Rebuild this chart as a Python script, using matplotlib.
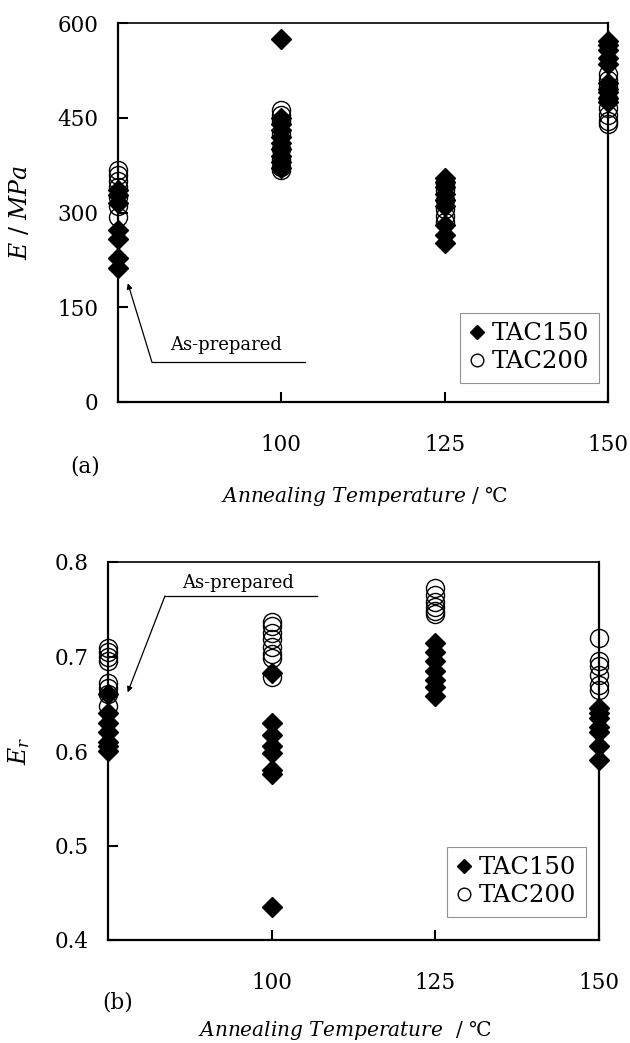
import matplotlib
matplotlib.use("Agg")
import matplotlib.pyplot as plt

plt.rcParams['font.family'] = ['DejaVu Serif', 'DejaVu Sans']
plt.rcParams['mathtext.fontset'] = 'dejavuserif'

# ---------------- data ----------------
xticks = [100, 125, 150]
as_prepared_x = 75

# Panel (a): E / MPa
E150_x = [75]*7 + [100]*10 + [125]*9 + [150]*10
E150_y = [212, 228, 258, 272, 315, 327, 335,
          575, 450, 440, 430, 420, 410, 400, 390, 380, 370,
          355, 348, 340, 330, 320, 310, 280, 265, 252,
          572, 565, 558, 545, 535, 505, 495, 490, 482, 475]
E200_x = [75]*7 + [100]*8 + [125]*6 + [150]*8
E200_y = [368, 360, 350, 340, 325, 310, 293,
          463, 455, 445, 425, 400, 385, 372, 367,
          345, 335, 320, 305, 295, 285,
          520, 510, 500, 480, 465, 455, 445, 440]

# Panel (b): Er
R150_x = [75]*7 + [100]*8 + [125]*7 + [150]*7
R150_y = [0.660, 0.640, 0.630, 0.620, 0.610, 0.605, 0.600,
          0.683, 0.630, 0.617, 0.605, 0.598, 0.580, 0.576, 0.435,
          0.714, 0.705, 0.695, 0.685, 0.675, 0.668, 0.658,
          0.645, 0.640, 0.635, 0.625, 0.620, 0.605, 0.590]
R200_x = [75]*8 + [100]*8 + [125]*6 + [150]*6
R200_y = [0.709, 0.705, 0.700, 0.695, 0.672, 0.667, 0.660, 0.648,
          0.737, 0.732, 0.725, 0.718, 0.710, 0.703, 0.698, 0.678,
          0.772, 0.765, 0.758, 0.752, 0.748, 0.745,
          0.720, 0.695, 0.690, 0.680, 0.670, 0.665]

fig = plt.figure(figsize=(6.30, 10.43), dpi=100)
axA = fig.add_axes([118/630, 1 - 402/1043, (608-118)/630, (402-23)/1043])
axB = fig.add_axes([108/630, 1 - 940/1043, (599-108)/630, (940-562)/1043])

def style(ax, ylim, yticks, yfmt):
    ax.set_xlim(75, 150)
    ax.set_ylim(*ylim)
    ax.set_xticks(xticks)
    ax.set_xticklabels([str(t) for t in xticks])
    ax.set_yticks(yticks)
    ax.set_yticklabels([yfmt(v) for v in yticks])
    ax.tick_params(direction='in', length=7, width=1.5, labelsize=15.5)
    ax.tick_params(axis='y', pad=14)
    ax.tick_params(axis='x', pad=23)
    ax.tick_params(top=False, right=False)
    for s in ['left', 'bottom', 'right']:
        ax.spines[s].set_linewidth(1.6)
    ax.spines['top'].set_linewidth(1.2)

def draw(ax, x1, y1, x2, y2, anchor):
    ax.plot(x1, y1, linestyle='none', marker='D', ms=9.8, color='black',
            mec='black', label='TAC150', clip_on=False, zorder=3)
    ax.plot(x2, y2, linestyle='none', marker='o', ms=13, mfc='none',
            mec='black', mew=1.0, label='TAC200', clip_on=False, zorder=4)
    leg = ax.legend(loc='lower right', bbox_to_anchor=anchor,
                    fontsize=17.5, frameon=True, fancybox=False,
                    handlelength=0.6, handletextpad=0.3, borderpad=0.4,
                    labelspacing=0.2, borderaxespad=0.0, markerscale=0.7)
    leg.get_frame().set_edgecolor('#777777')
    leg.get_frame().set_linewidth(0.8)

# Panel (a)
draw(axA, E150_x, E150_y, E200_x, E200_y, (0.9816, 0.050))
style(axA, (0, 600), [0, 150, 300, 450, 600], lambda v: f"{v:d}")
axA.annotate('', xy=(76.5, 188), xytext=(80.2, 63),
             arrowprops=dict(arrowstyle='-|>', lw=0.9, color='black',
                             mutation_scale=8, shrinkA=0, shrinkB=0))
axA.plot([80.2, 103.6], [63, 63], color='black', lw=0.9)
axA.text(82.9, 91, 'As-prepared', fontsize=13, ha='left', va='center')
axA.set_ylabel(r'$\mathit{E}$ / $\mathit{MPa}$', fontsize=17)
axA.yaxis.set_label_coords(-0.175, 0.5)
fig.text(85/630, 1 - 466/1043, '(a)', fontsize=15.5, ha='center', va='center')
fig.text(365/630, 1 - 497/1043, r'$\mathit{Annealing\ Temperature}$ / ℃',
         fontsize=14.5, ha='center', va='center')

# Panel (b)
draw(axB, R150_x, R150_y, R200_x, R200_y, (0.9735, 0.061))
style(axB, (0.4, 0.8), [0.4, 0.5, 0.6, 0.7, 0.8], lambda v: f"{v:.1f}")
axB.annotate('', xy=(78.0, 0.662), xytext=(83.7, 0.764),
             arrowprops=dict(arrowstyle='-|>', lw=0.9, color='black',
                             mutation_scale=8, shrinkA=0, shrinkB=0))
axB.plot([83.7, 106.9], [0.764, 0.764], color='black', lw=0.9)
axB.text(86.3, 0.778, 'As-prepared', fontsize=13, ha='left', va='center')
axB.set_ylabel(r'$E_r$', fontsize=17)
axB.yaxis.set_label_coords(-0.155, 0.5)
fig.text(118/630, 1 - 1003/1043, '(b)', fontsize=15.5, ha='center', va='center')
fig.text(345/630, 1 - 1030/1043, r'$\mathit{Annealing\ Temperature}$  / ℃',
         fontsize=14.5, ha='center', va='center')

fig.savefig('out.png', dpi=100)
